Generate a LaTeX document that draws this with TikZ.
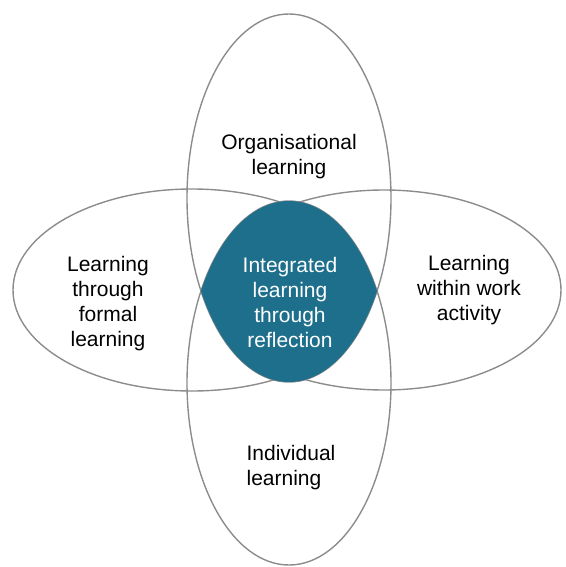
\documentclass[tikz,border=0pt]{standalone}
\usepackage{fontspec}
\setmainfont{Liberation Sans}
\usepackage{tikz}
\usetikzlibrary{calc}
\definecolor{ringgray}{RGB}{140,140,140}
\definecolor{reflblue}{RGB}{30,111,140}

\begin{document}
\begin{tikzpicture}[x=1pt,y=-1pt,
    ring/.style={draw=ringgray,line width=1.4pt},
    lbl/.style={font=\fontsize{21}{25}\selectfont,align=center}]
  \useasboundingbox (0,0) rectangle (565,567);
  % the four overlapping ellipses
  \draw[ring] (192,290) ellipse (179 and 101);
  \draw[ring] (384,290) ellipse (177 and 100);
  \draw[ring] (289,198) ellipse (102 and 184);
  \draw[ring] (289,383) ellipse (102 and 182);
  % middle: where the upright ellipses overlap
  \begin{scope}
    \clip (289,198) ellipse (102 and 184);
    \fill[reflblue] (289,383) ellipse (102 and 182);
  \end{scope}
  \node[lbl] (org) at (289,157) {Organisational\\learning};
  \node[lbl] (formal) at (108,304) {Learning\\through\\formal\\learning};
  \node[lbl] (work) at (469,290) {Learning\\within work\\activity};
  \node[lbl,text=white] (refl) at (290,302) {Integrated\\learning\\through\\reflection};
  \node[lbl,align=left] (indiv) at (291,468) {Individual\\learning};
\end{tikzpicture}
\end{document}
